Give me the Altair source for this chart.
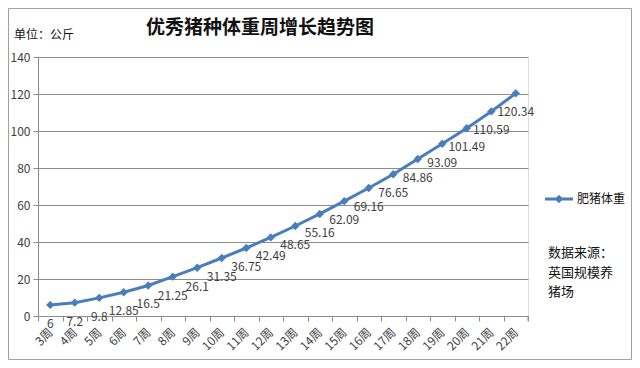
import altair as alt
import pandas as pd

weeks = ["3周", "4周", "5周", "6周", "7周", "8周", "9周", "10周", "11周", "12周",
         "13周", "14周", "15周", "16周", "17周", "18周", "19周", "20周", "21周", "22周"]
weights = [6, 7.2, 9.8, 12.85, 16.5, 21.25, 26.1, 31.35, 36.75, 42.49,
           48.65, 55.16, 62.09, 69.16, 76.65, 84.86, 93.09, 101.49, 110.59, 120.34]
y_ticks = [0, 20, 40, 60, 80, 100, 120, 140]
series_name = "肥猪体重"
title_text = "优秀猪种体重周增长趋势图"
unit_text = "单位：公斤"
source_lines = ["数据来源：", "英国规模养", "猪场"]

FONT = "Noto Sans CJK SC"
BLUE = "#4A7EBB"
GRID = "#8C8C8C"
TXT = "#404040"

df = pd.DataFrame({"week": weeks, "weight": weights,
                   "label": [f"{v:g}" for v in weights]})

W, H = 490, 259

x_enc = alt.X("week:N", sort=weeks, bandPosition=0.5,
              scale=alt.Scale(type="band", domain=weeks, paddingInner=0, paddingOuter=0),
              axis=alt.Axis(title=None, labelAngle=-45, labelAlign="right", labelBaseline="middle",
                            labelFont=FONT, labelFontSize=12, labelColor=TXT, labelOverlap=False,
                            tickBand="extent", tickSize=5, tickColor=GRID,
                            domainColor=GRID, labelPadding=9, grid=False))
y_enc = alt.Y("weight:Q",
              scale=alt.Scale(domain=[0, 140], nice=False),
              axis=alt.Axis(title=None, values=y_ticks, labelFont=FONT, labelFontSize=12,
                            labelColor=TXT, tickSize=5, tickColor=GRID, domainColor=GRID,
                            labelOverlap=False, labelBound=False, labelFlush=False,
                            gridColor=GRID, gridWidth=1, labelPadding=3))

base = alt.Chart(df).encode(x=x_enc, y=y_enc)

line = base.mark_line(color=BLUE, strokeWidth=3,
                      point=alt.OverlayMarkDef(shape="diamond", size=70, color=BLUE, filled=True, opacity=1))

labels = base.mark_text(dy=19, font=FONT, fontSize=12, color=TXT).encode(text="label:N")

one = pd.DataFrame({"k": [0]})

title = alt.Chart(one).mark_text(font=FONT, fontSize=19, fontWeight="bold", color="#111111",
                                 align="center", baseline="middle").encode(
    x=alt.value(222), y=alt.value(-29), text=alt.value(title_text))

unit = alt.Chart(one).mark_text(font=FONT, fontSize=12, color="#111111",
                                align="left", baseline="middle").encode(
    x=alt.value(-24), y=alt.value(-22), text=alt.value(unit_text))

leg_line = alt.Chart(one).mark_rule(color=BLUE, strokeWidth=3).encode(
    x=alt.value(507), x2=alt.value(535), y=alt.value(142))
leg_pt = alt.Chart(one).mark_point(shape="diamond", size=70, color=BLUE, filled=True, opacity=1).encode(
    x=alt.value(521), y=alt.value(142))
leg_txt = alt.Chart(one).mark_text(font=FONT, fontSize=12, color="#111111",
                                   align="left", baseline="middle").encode(
    x=alt.value(539), y=alt.value(142), text=alt.value(series_name))

src = alt.Chart(one).mark_text(font=FONT, fontSize=13, color="#111111", align="left",
                               baseline="middle", lineHeight=19.5).encode(
    x=alt.value(510), y=alt.value(196), text=alt.value(source_lines))

end_tick = alt.Chart(one).mark_rule(color=GRID).encode(
    x=alt.value(W), y=alt.value(H), y2=alt.value(H + 5))

border = alt.Chart(one).mark_rect(fill=None, stroke="#A0A0A0", strokeWidth=1).encode(
    x=alt.value(-29.5), x2=alt.value(593.5), y=alt.value(-48.5), y2=alt.value(302.5))

chart = alt.layer(border, line, labels, title, unit, leg_line, leg_pt, leg_txt, src, end_tick).properties(
    width=W, height=H,
    autosize=alt.AutoSizeParams(type="none"),
    padding={"left": 30, "top": 49, "right": 104, "bottom": 44},
).configure_view(stroke=None).configure(background="white")

chart.save("out.html", embed_options={"renderer": "svg", "actions": False})
